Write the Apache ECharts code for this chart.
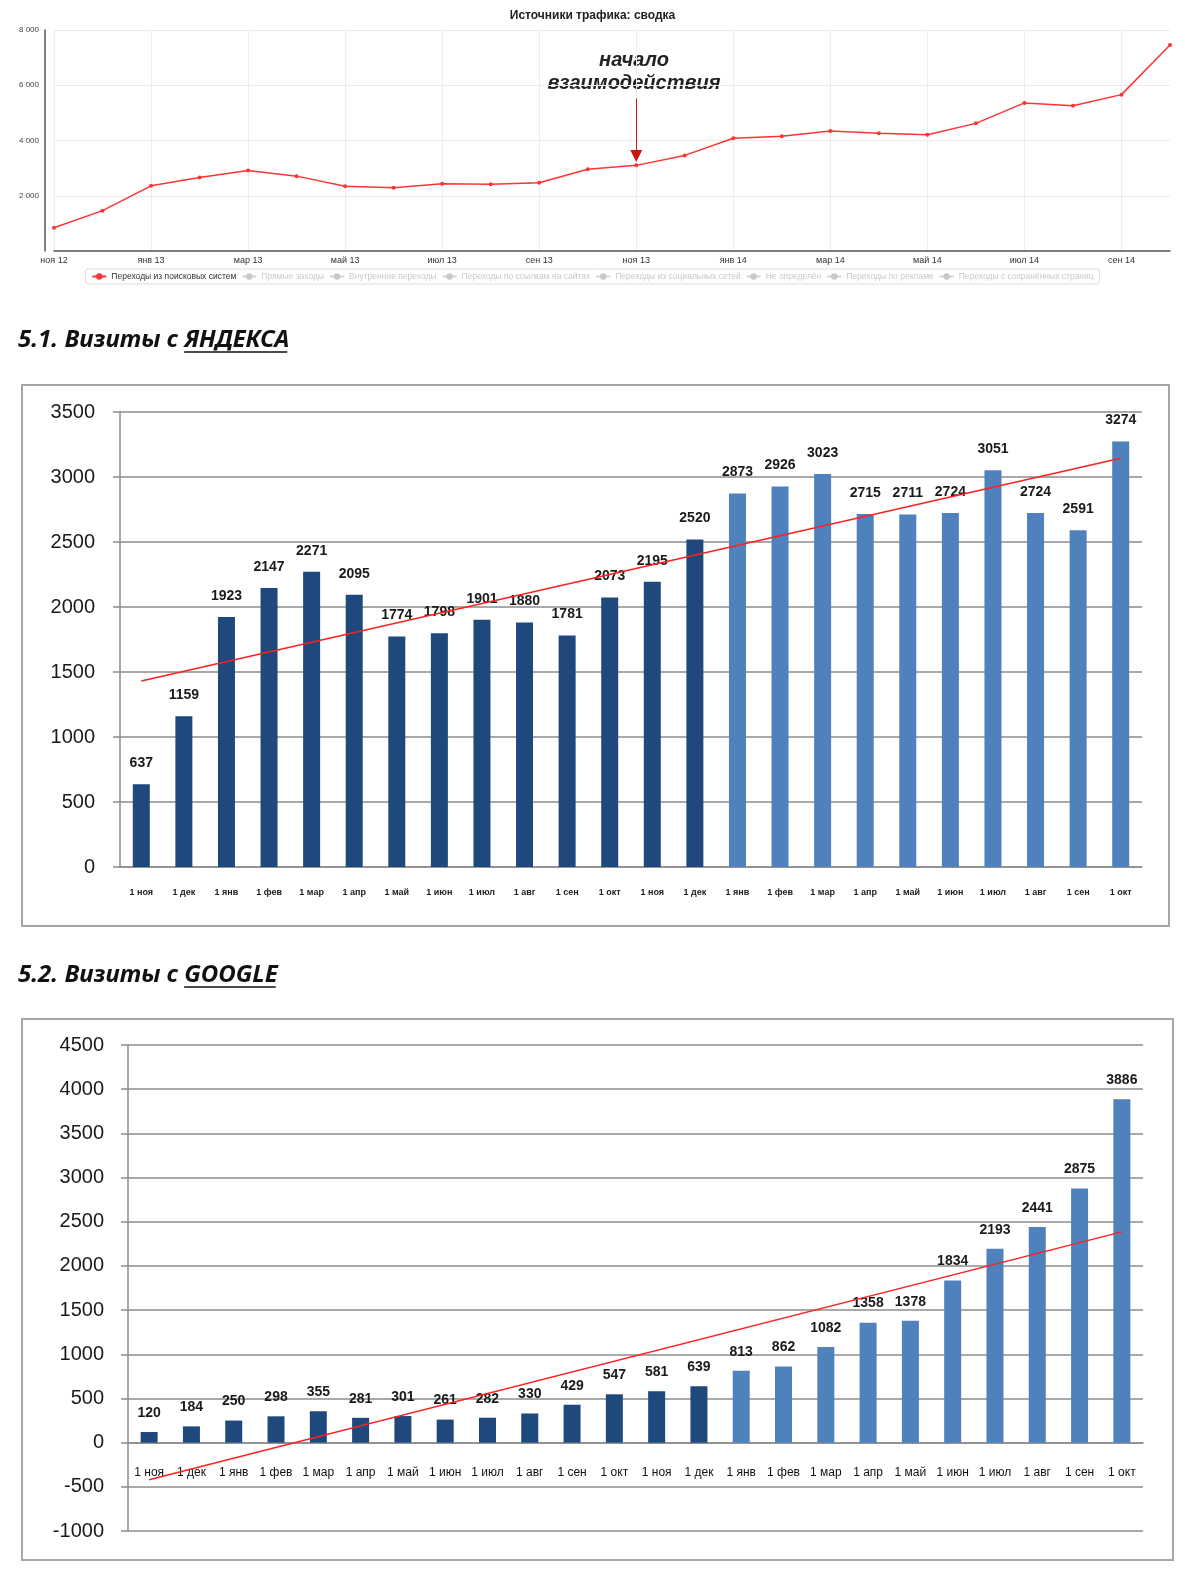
<!DOCTYPE html>
<html>
<head>
<meta charset="utf-8">
<title>Источники трафика</title>
<script src="https://cdn.jsdelivr.net/npm/echarts@6/dist/echarts.min.js"></script>
<style>
    html, body { margin: 0; padding: 0; background: #fff; }
    #main { width: 1185px; height: 1578px; }
</style>
</head>
<body>
<div id="main"></div>
<script>
// сводка по месяцам (переходы из поисковых систем)
var trafficMonths = ['ноя 12', 'дек 12', 'янв 13', 'фев 13', 'мар 13', 'апр 13', 'май 13', 'июн 13',
    'июл 13', 'авг 13', 'сен 13', 'окт 13', 'ноя 13', 'дек 13', 'янв 14', 'фев 14', 'мар 14', 'апр 14',
    'май 14', 'июн 14', 'июл 14', 'авг 14', 'сен 14', 'окт 14'];
var trafficSearch = [840, 1460, 2360, 2660, 2910, 2710, 2340, 2290, 2430, 2420, 2470, 2960,
    3100, 3460, 4080, 4150, 4340, 4260, 4210, 4620, 5360, 5260, 5660, 7460];
var trafficLegend = ['Переходы из поисковых систем', 'Прямые заходы', 'Внутренние переходы',
    'Переходы по ссылкам на сайтах', 'Переходы из социальных сетей', 'Не определён',
    'Переходы по рекламе', 'Переходы с сохранённых страниц'];
var trafficAxis = [0, 8000, 2000];

// визиты по месяцам
var visitMonths = ['1 ноя', '1 дек', '1 янв', '1 фев', '1 мар', '1 апр', '1 май', '1 июн', '1 июл',
    '1 авг', '1 сен', '1 окт', '1 ноя', '1 дек', '1 янв', '1 фев', '1 мар', '1 апр', '1 май', '1 июн',
    '1 июл', '1 авг', '1 сен', '1 окт'];
var yandexVisits = [637, 1159, 1923, 2147, 2271, 2095, 1774, 1798, 1901, 1880, 1781, 2073,
    2195, 2520, 2873, 2926, 3023, 2715, 2711, 2724, 3051, 2724, 2591, 3274];
var yandexTrend = [1431, 3144];
var yandexAxis = [0, 3500, 500];

var googleVisits = [120, 184, 250, 298, 355, 281, 301, 261, 282, 330, 429, 547,
    581, 639, 813, 862, 1082, 1358, 1378, 1834, 2193, 2441, 2875, 3886];
var googleTrend = [-420, 2385];
var googleAxis = [-1000, 4500, 500];

window.onload = function () {
    var darkBar = '#1f497d';
    var lightBar = '#4f81bd';
    var firstLight = 14; // с 1 янв 2014 столбцы светлые
    var headFont = 'italic bold 24px "Noto Sans"';
    var googleGridHeight = 486;

    var ctx = document.createElement('canvas').getContext('2d');
    ctx.font = headFont;
    function textWidth(s) {
        return ctx.measureText(s).width;
    }

    function barData(arr) {
        return arr.map(function (v, i) {
            return {value: v, itemStyle: {color: i < firstLight ? darkBar : lightBar}};
        });
    }

    function trendData(arr, count) {
        return [[0, arr[0]], [count - 1, arr[1]]];
    }

    function heading(x, y, prefix, word) {
        var x1 = x + textWidth(prefix);
        var x2 = x1 + textWidth(word);
        return [{
            type: 'text',
            x: x,
            y: y,
            style: {
                text: prefix + word,
                font: headFont,
                fill: '#111',
                textVerticalAlign: 'middle',
                shadowColor: 'rgba(0,0,0,0.35)',
                shadowBlur: 2,
                shadowOffsetX: 1,
                shadowOffsetY: 1
            }
        }, {
            type: 'line',
            shape: {x1: x1, y1: y + 12, x2: x2 - 2, y2: y + 12},
            style: {stroke: '#111', lineWidth: 1.5}
        }];
    }

    var visitValueAxis = function (range, gridIndex, margin) {
        return {
            type: 'value',
            gridIndex: gridIndex,
            min: range[0],
            max: range[1],
            interval: range[2],
            axisLine: {show: true, lineStyle: {color: '#8c8c8c', width: 1.5}},
            axisTick: {show: true, inside: false, length: 7, lineStyle: {color: '#8c8c8c', width: 1.5}},
            axisLabel: {
                fontSize: 20, color: '#1a1a1a', margin: margin, fontFamily: 'Liberation Sans',
                formatter: function (v) {
                    return String(v);
                }
            },
            splitLine: {lineStyle: {color: '#8c8c8c', width: 1.5}}
        };
    };

    var myChart = echarts.init(document.getElementById('main'));
    var legendSelected = {};
    trafficLegend.forEach(function (n, i) {
        legendSelected[n] = i === 0;
    });

    var series = [{
        name: trafficLegend[0],
        type: 'line',
        xAxisIndex: 0,
        yAxisIndex: 0,
        data: trafficSearch,
        symbol: 'circle',
        symbolSize: 4,
        itemStyle: {color: '#ff3333'},
        lineStyle: {color: '#ff3333', width: 1.5},
        markLine: {
            silent: true,
            symbol: ['none', 'triangle'],
            symbolSize: 12,
            label: {show: false},
            lineStyle: {color: '#cc1111', width: 1, type: 'solid'},
            data: [[{coord: ['ноя 13', 5520]}, {coord: ['ноя 13', 3440]}]]
        }
    }];
    trafficLegend.slice(1).forEach(function (n) {
        series.push({
            name: n, type: 'line', xAxisIndex: 0, yAxisIndex: 0, data: [],
            symbol: 'circle', symbolSize: 4
        });
    });

    var labelStyle = function (dist) {
        return {
            show: true,
            position: 'top',
            distance: dist,
            fontSize: 14,
            fontWeight: 'bold',
            color: '#1a1a1a',
            fontFamily: 'Liberation Sans'
        };
    };

    series.push({
        type: 'bar', xAxisIndex: 1, yAxisIndex: 1, barWidth: 17,
        data: barData(yandexVisits), label: labelStyle(14)
    });
    series.push({
        type: 'line', xAxisIndex: 1, yAxisIndex: 1, z: 5, symbol: 'none',
        lineStyle: {color: '#ff2020', width: 1.5},
        data: trendData(yandexTrend, yandexVisits.length)
    });
    series.push({
        type: 'bar', xAxisIndex: 2, yAxisIndex: 2, barWidth: 17,
        data: barData(googleVisits), label: labelStyle(12)
    });
    series.push({
        type: 'line', xAxisIndex: 2, yAxisIndex: 2, z: 5, symbol: 'none',
        lineStyle: {color: '#ff2020', width: 1.5},
        data: trendData(googleTrend, googleVisits.length)
    });

    // ось категорий Google проходит через ноль
    var zeroOffset = googleGridHeight * (0 - googleAxis[0]) / (googleAxis[1] - googleAxis[0]);

    var option = {
        animation: false,
        title: [{
            text: 'Источники трафика: сводка',
            left: 'center',
            top: 5,
            textStyle: {fontSize: 12, fontWeight: 'bold', color: '#222', fontFamily: 'Liberation Sans'}
        }],
        legend: {
            data: trafficLegend,
            selected: legendSelected,
            selectedMode: false,
            left: 'center',
            top: 269,
            itemWidth: 14,
            itemHeight: 8,
            itemGap: 5,
            padding: [3, 6],
            borderColor: '#ddd',
            borderWidth: 1,
            borderRadius: 3,
            inactiveColor: '#c8c8c8',
            textStyle: {fontSize: 8.5, color: '#333', fontFamily: 'Liberation Sans'}
        },
        grid: [
            {left: 54, top: 30, width: 1116, height: 221},
            {left: 120, top: 412, width: 1022, height: 455},
            {left: 128, top: 1045, width: 1015, height: googleGridHeight}
        ],
        xAxis: [{
            type: 'category',
            gridIndex: 0,
            data: trafficMonths,
            boundaryGap: false,
            axisLine: {lineStyle: {color: '#555', width: 1.5}},
            axisTick: {show: false},
            axisLabel: {interval: 1, fontSize: 9, color: '#333', margin: 5, fontFamily: 'Liberation Sans'},
            splitLine: {show: true, interval: 1, lineStyle: {color: '#ececec'}}
        }, {
            type: 'category',
            gridIndex: 1,
            data: visitMonths,
            axisLine: {lineStyle: {color: '#8c8c8c', width: 1.5}},
            axisTick: {show: false},
            axisLabel: {interval: 0, fontSize: 9, fontWeight: 'bold', color: '#222', margin: 21, fontFamily: 'Liberation Sans'}
        }, {
            type: 'category',
            gridIndex: 2,
            data: visitMonths,
            offset: -zeroOffset,
            axisLine: {onZero: false, lineStyle: {color: '#8c8c8c', width: 1.5}},
            axisTick: {show: false},
            axisLabel: {interval: 0, fontSize: 12, color: '#111', margin: 24, fontFamily: 'Liberation Sans'}
        }],
        yAxis: [{
            type: 'value',
            gridIndex: 0,
            min: trafficAxis[0],
            max: trafficAxis[1],
            interval: trafficAxis[2],
            offset: 9,
            axisLine: {show: true, lineStyle: {color: '#555', width: 1.5}},
            axisTick: {show: false},
            axisLabel: {
                fontSize: 8, color: '#444', margin: 6, showMinLabel: false, fontFamily: 'Liberation Sans',
                formatter: function (v) {
                    return String(v).replace(/\B(?=(\d{3})+(?!\d))/g, ' ');
                }
            },
            splitLine: {lineStyle: {color: '#ececec'}}
        },
            visitValueAxis(yandexAxis, 1, 25),
            visitValueAxis(googleAxis, 2, 24)
        ],
        graphic: [{
            type: 'text',
            x: 634,
            y: 72,
            style: {
                text: 'начало\nвзаимодействия',
                font: 'italic bold 20px "Liberation Sans"',
                lineHeight: 23,
                fill: '#222',
                textAlign: 'center',
                textVerticalAlign: 'middle'
            }
        }, {
            type: 'rect',
            shape: {x: 22, y: 385, width: 1147, height: 541},
            style: {fill: 'none', stroke: '#a6a6a6', lineWidth: 2}
        }, {
            type: 'rect',
            shape: {x: 22, y: 1019, width: 1151, height: 541},
            style: {fill: 'none', stroke: '#a6a6a6', lineWidth: 2}
        }].concat(heading(18, 340, '5.1. Визиты с ', 'ЯНДЕКСА'))
            .concat(heading(18, 975, '5.2. Визиты с ', 'GOOGLE')),
        series: series
    };
    myChart.setOption(option);
};
</script>
</body>
</html>
